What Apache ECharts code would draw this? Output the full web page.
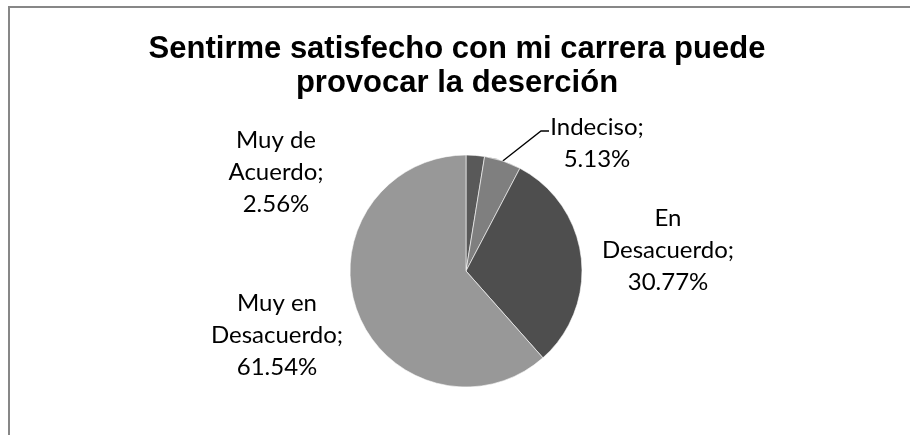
<!DOCTYPE html>
<html>
<head>
<meta charset="utf-8">
<script src="https://cdn.jsdelivr.net/npm/echarts@6/dist/echarts.min.js"></script>
<style>
  html, body { margin: 0; padding: 0; background: #fff; }
  #chart { width: 910px; height: 435px; }
</style>
</head>
<body>
<div id="chart"></div>
<script>
// datos
var categories = ["Muy de Acuerdo", "Indeciso", "En Desacuerdo", "Muy en Desacuerdo"];
var values = [1, 2, 12, 24];
var colors = ["#595959", "#7f7f7f", "#4e4e4e", "#989898"];

// posiciones de las etiquetas (centro del bloque de texto)
var labelPos = [
    { x: 276, y: 172 },
    { x: 597, y: 143 },
    { x: 668, y: 250 },
    { x: 277, y: 335 }
];

var myChart = echarts.init(document.getElementById("chart"), null, { renderer: "canvas" });

var data = [];
for (var i = 0; i < categories.length; i++) {
    data.push({
        name: categories[i],
        value: values[i],
        itemStyle: { color: colors[i] },
        labelLine: { show: i === 1 }
    });
}

myChart.setOption({
    animation: false,
    title: {
        text: "Sentirme satisfecho con mi carrera puede\nprovocar la deserción",
        left: 452,
        top: 27,
        textAlign: "center",
        textStyle: {
            fontFamily: "Liberation Sans",
            fontWeight: "bold",
            fontSize: 31,
            lineHeight: 34,
            color: "#000"
        }
    },
    graphic: [{
        type: "rect",
        shape: { x: 9, y: 7, width: 920, height: 450 },
        style: { fill: null, stroke: "#878787", lineWidth: 2 },
        silent: true
    }],
    series: [{
        type: "pie",
        center: [466, 271],
        radius: 116,
        startAngle: 90,
        clockwise: true,
        data: data,
        itemStyle: { borderColor: "#ffffff", borderWidth: 0.6 },
        label: {
            show: true,
            formatter: function (p) {
                var n = p.name;
                var k = n.lastIndexOf(" ");
                if (k > 0) n = n.substring(0, k) + "\n" + n.substring(k + 1);
                return n + ";\n" + p.percent.toFixed(2) + "%";
            },
            fontFamily: "Lato",
            fontSize: 24,
            lineHeight: 32,
            color: "#000",
            align: "center"
        },
        labelLine: {
            show: true,
            lineStyle: { color: "#000", width: 1.3 }
        },
        labelLayout: function (params) {
            var p = labelPos[params.dataIndex];
            var out = { x: p.x, y: p.y, align: "center", verticalAlign: "middle" };
            if (params.dataIndex === 1 && params.labelLinePoints) {
                var s = params.labelLinePoints[0];
                out.labelLinePoints = [s, [541, 131], [549, 131]];
            }
            return out;
        }
    }]
});
</script>
</body>
</html>
